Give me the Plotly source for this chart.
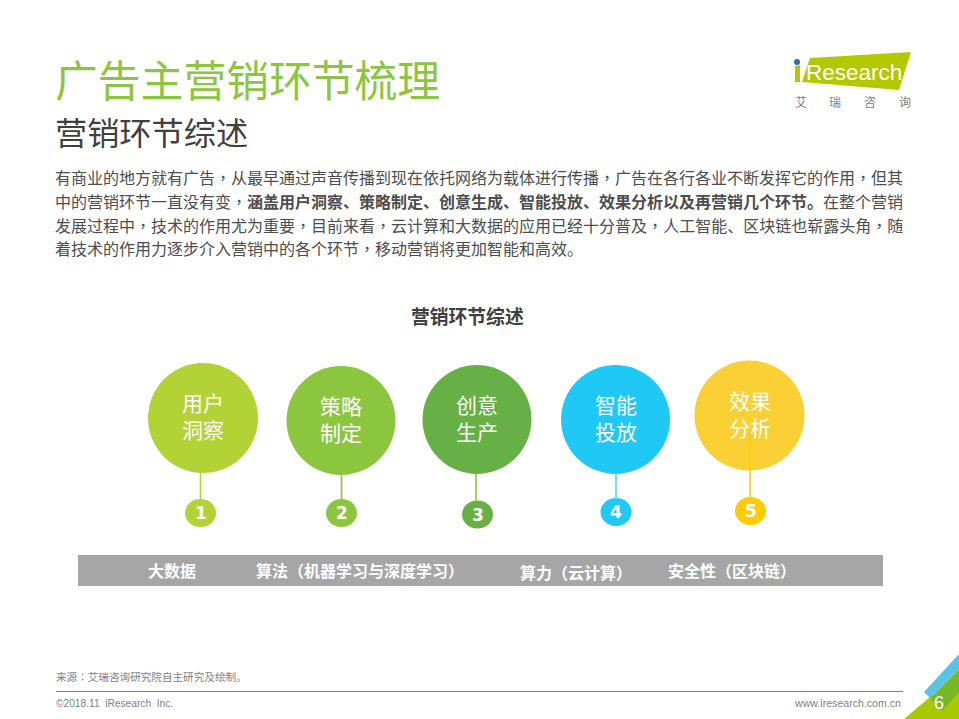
# %% Imports

import re

import plotly.graph_objects as go

# %% Textos e valores do slide

FONT_CJK = "Noto Sans CJK SC"
FONT_TC = "Noto Sans CJK TC"  # pontuação centrada, como no original
FONT_LAT = "Liberation Sans"

titulo = "广告主营销环节梳理"
subtitulo = "营销环节综述"
paragrafo = [
    "有商业的地方就有广告，从最早通过声音传播到现在依托网络为载体进行传播，广告在各行各业不断发挥它的作用，但其",
    "中的营销环节一直没有变，<b>涵盖用户洞察、策略制定、创意生成、智能投放、效果分析以及再营销几个环节。</b>在整个营销",
    "发展过程中，技术的作用尤为重要，目前来看，云计算和大数据的应用已经十分普及，人工智能、区块链也崭露头角，随",
    "着技术的作用力逐步介入营销中的各个环节，移动营销将更加智能和高效。",
]
paragrafo_y = [177, 201, 225, 248]

# etapas
etapas = ["用户<br>洞察", "策略<br>制定", "创意<br>生产", "智能<br>投放", "效果<br>分析"]
numeros = ["1", "2", "3", "4", "5"]
cores = ["#b2d235", "#8cc63f", "#66b046", "#1fc8f5", "#fbd035"]
cores_num = ["#b2d235", "#8cc63f", "#66b046", "#1fc8f5", "#ffcc00"]
cores_linha = ["#b2d235", "#8cc63f", "#8cc63f", "#5fd0f5", "#ffcc00"]
circ_x = [203, 341, 477, 615.5, 749.5]
circ_y = [418, 420.5, 419.5, 419.5, 415.5]
circ_r = [55, 54.5, 54.5, 54.5, 55]
num_x = [200.5, 341.5, 477.5, 616, 750.5]
num_y = [513, 513, 514.5, 512, 511]
linha_x = [200.5, 341.5, 476, 616, 750]
linha_topo = [473, 475, 474, 474, 430]

# barra cinza
barra_rotulos = ["大数据", "算法（机器学习与深度学习）", "算力（云计算）", "安全性（区块链）"]
barra_x = [172, 360, 576, 732]
barra_y = [569.5, 569.5, 571.5, 569.5]

# %% Figura

fig = go.Figure()
shapes = []
annots = []


def pontuacao(s):
    return re.sub(
        r"([，：（）])", rf'<span style="font-family:{FONT_TC}">\1</span>', s
    )


def texto(x, y, s, size, color, family=FONT_CJK, anchor="left"):
    annots.append(
        dict(
            x=x,
            y=y,
            text=s,
            xref="x",
            yref="y",
            xanchor=anchor,
            yanchor="middle",
            showarrow=False,
            font=dict(size=size, color=color, family=family),
            borderpad=0,
            borderwidth=0,
        )
    )


def poligono(pts, color):
    path = "M " + " L ".join(f"{x},{y}" for x, y in pts) + " Z"
    shapes.append(dict(type="path", path=path, fillcolor=color, line_width=0, layer="below"))


def elipse(cx, cy, rx, ry, color, layer="below"):
    shapes.append(
        dict(
            type="circle",
            x0=cx - rx,
            x1=cx + rx,
            y0=cy - ry,
            y1=cy + ry,
            fillcolor=color,
            line_width=0,
            layer=layer,
        )
    )


# cabeçalho
texto(55, 77.5, titulo, 42.8, "#8cc63f")
texto(55, 131, subtitulo, 32.2, "#404040")
for s, y in zip(paragrafo, paragrafo_y):
    texto(55, y, pontuacao(s), 16, "#4d4d4d")
texto(467, 315, f"<b>{subtitulo}</b>", 18.8, "#404040", anchor="center")

# logo
poligono([(810, 58), (911, 52), (899, 90), (802, 82)], "#b2c900")
poligono([(795, 66), (800, 65), (800, 82), (795, 82)], "#b2c900")
elipse(797, 62, 3, 3, "#2e6db4")
texto(854, 72, "Research", 22.5, "#ffffff", FONT_LAT, "center")
for ch, x in zip("艾瑞咨询", [801, 835, 870, 905]):
    texto(x, 101, ch, 12, "#808080", anchor="center")

# etapas
for i in range(5):
    elipse(circ_x[i], circ_y[i], circ_r[i], circ_r[i], cores[i])
    elipse(num_x[i], num_y[i], 15.5, 14, cores_num[i])
    fig.add_trace(
        go.Scatter(
            x=[linha_x[i], linha_x[i]],
            y=[linha_topo[i], num_y[i] - 13],
            mode="lines",
            line=dict(color=cores_linha[i], width=1.6),
            hoverinfo="skip",
        )
    )
    texto(circ_x[i], circ_y[i] - 2.5, etapas[i], 21, "#ffffff", anchor="center")
    texto(num_x[i], num_y[i], f"<b>{numeros[i]}</b>", 17, "#ffffff", "DejaVu Sans", "center")

# barra
shapes.append(dict(type="rect", x0=78, x1=883, y0=555, y1=586, fillcolor="#a6a6a6", line_width=0, layer="below"))
for s, x, y in zip(barra_rotulos, barra_x, barra_y):
    texto(x, y, f"<b>{pontuacao(s)}</b>", 16, "#ffffff", anchor="center")
annots[-4]["x"] = 172

# rodapé
texto(56, 676, pontuacao("来源：艾瑞咨询研究院自主研究及绘制。"), 10.6, "#7f7f7f")
shapes.append(dict(type="line", x0=56, x1=903, y0=691.5, y1=691.5, line=dict(color="#808080", width=1), layer="below"))
texto(56, 703, "©2018.11  iResearch  Inc.", 10.2, "#7f7f7f", FONT_LAT)
texto(901, 703, "www.iresearch.com.cn", 10.6, "#7f7f7f", FONT_LAT, "right")

# canto
poligono([(904, 719), (930, 697), (959, 680), (959, 719)], "#a8c800")
poligono([(930, 698), (959, 669), (959, 692), (942, 711)], "#76b82a")
poligono([(959, 654), (924, 692), (930, 698), (959, 669)], "#5bc2e7")
texto(939, 703, "6", 18, "#ffffff", FONT_LAT, "center")

fig.update_layout(
    width=959,
    height=719,
    margin=dict(l=0, r=0, t=0, b=0),
    paper_bgcolor="#ffffff",
    plot_bgcolor="#ffffff",
    showlegend=False,
    xaxis=dict(range=[0, 959], visible=False, fixedrange=True),
    yaxis=dict(range=[719, 0], visible=False, fixedrange=True),
    shapes=shapes,
    annotations=annots,
)

fig.write_html(
    "out.html",
    config={"displayModeBar": False},
    post_script="document.body.style.margin='0';document.body.style.overflow='hidden';",
)
